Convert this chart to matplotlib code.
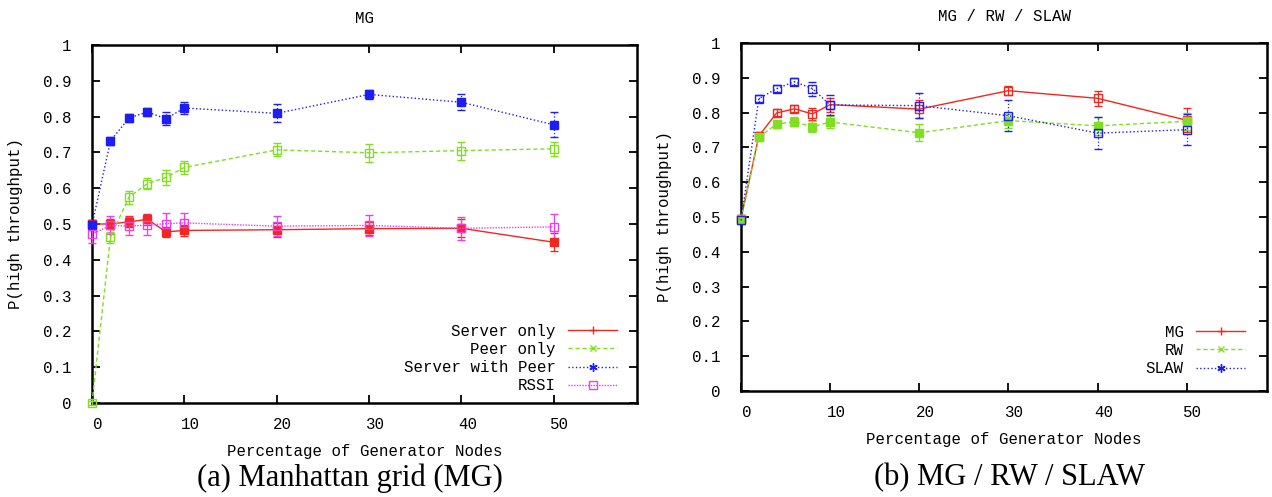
import matplotlib
matplotlib.use("Agg")
import matplotlib.pyplot as plt
import matplotlib.transforms as mtransforms
from matplotlib.lines import Line2D

# percentage of generator nodes
gen_pct = [0, 2, 4, 6, 8, 10, 20, 30, 40, 50]

# (a) Manhattan grid
server_only = [0.500, 0.500, 0.506, 0.513, 0.478, 0.482, 0.484, 0.487, 0.488, 0.449]
server_only_err = [0.010, 0.015, 0.015, 0.015, 0.015, 0.015, 0.020, 0.018, 0.025, 0.025]
peer_only = [0.000, 0.463, 0.575, 0.613, 0.630, 0.658, 0.707, 0.699, 0.705, 0.710]
peer_only_err = [0.005, 0.015, 0.018, 0.016, 0.020, 0.018, 0.018, 0.025, 0.025, 0.020]
server_peer = [0.497, 0.732, 0.796, 0.813, 0.794, 0.824, 0.809, 0.862, 0.840, 0.777]
server_peer_err = [0.015, 0.010, 0.010, 0.012, 0.018, 0.016, 0.025, 0.012, 0.022, 0.035]
rssi = [0.472, 0.496, 0.494, 0.497, 0.501, 0.503, 0.494, 0.496, 0.488, 0.492]
rssi_err = [0.025, 0.025, 0.025, 0.028, 0.030, 0.028, 0.028, 0.030, 0.032, 0.035]

# (b) MG / RW / SLAW
mg = [0.495, 0.733, 0.799, 0.811, 0.796, 0.823, 0.810, 0.863, 0.841, 0.778]
mg_err = [0.010, 0.010, 0.010, 0.010, 0.017, 0.020, 0.025, 0.013, 0.022, 0.035]
rw = [0.495, 0.730, 0.767, 0.774, 0.759, 0.773, 0.742, 0.777, 0.762, 0.775]
rw_err = [0.010, 0.012, 0.012, 0.012, 0.016, 0.016, 0.025, 0.020, 0.025, 0.025]
slaw = [0.490, 0.840, 0.869, 0.889, 0.869, 0.822, 0.820, 0.791, 0.741, 0.751]
slaw_err = [0.010, 0.010, 0.010, 0.010, 0.020, 0.030, 0.035, 0.045, 0.045, 0.045]

y_ticks = [0, 0.1, 0.2, 0.3, 0.4, 0.5, 0.6, 0.7, 0.8, 0.9, 1]
y_labels = ["0", "0.1", "0.2", "0.3", "0.4", "0.5", "0.6", "0.7", "0.8", "0.9", "1"]
x_ticks = [0, 10, 20, 30, 40, 50]

RED = "#f0281e"
GREEN = "#7ee020"
BLUE = "#1d1df5"
MAGENTA = "#f03cf0"

MONO = "Liberation Mono"
FS = 11.3
W, H = 1272, 497

fig = plt.figure(figsize=(W / 100, H / 100), dpi=100)


def px_axes(x0, y0, x1, y1):
    return fig.add_axes([x0 / W, 1 - y1 / H, (x1 - x0) / W, (y1 - y0) / H])


def series(ax, y, err, color, ls, mfc, lw=1.0):
    line, caps, bars = ax.errorbar(gen_pct, y, yerr=err, color=color, ls=ls, lw=lw,
                                   marker="s", ms=6, mfc=mfc, mec=color, mew=1.0,
                                   ecolor=color, elinewidth=0.9, capsize=3, capthick=0.9,
                                   clip_on=False, zorder=3)
    for b in bars:
        b.set_linestyle(":" if ls == ":" else "-")
        b.set_clip_on(False)
    for c in caps:
        c.set_clip_on(False)


def style_axes(ax, title):
    ax.set_xlim(0, 59)
    ax.set_ylim(0, 1)
    ax.set_xticks(x_ticks)
    ax.set_xticklabels([str(t) for t in x_ticks], fontfamily=MONO, fontsize=FS)
    ax.set_yticks(y_ticks)
    ax.set_yticklabels(y_labels, fontfamily=MONO, fontsize=FS)
    ax.tick_params(direction="in", length=6, width=1.3, top=True, right=True)
    ax.tick_params(axis="x", pad=10)
    ax.tick_params(axis="y", pad=15)
    off = mtransforms.ScaledTranslation(0.06, 0, fig.dpi_scale_trans)
    for lab in ax.get_xticklabels():
        lab.set_transform(lab.get_transform() + off)
    for s in ax.spines.values():
        s.set_linewidth(1.8)
    ax.set_title(title, fontfamily=MONO, fontsize=FS, pad=16)
    ax.set_xlabel("Percentage of Generator Nodes", fontfamily=MONO, fontsize=FS, labelpad=9)
    ax.set_ylabel("P(high throughput)", fontfamily=MONO, fontsize=FS, labelpad=14)


def gp_legend(ax, handles, labels, anchor):
    leg = ax.legend(handles, labels, loc="lower right", frameon=False, markerfirst=False,
                    prop={"family": MONO, "size": FS}, handlelength=3.1,
                    handletextpad=0.8, labelspacing=0.2, borderaxespad=0.0,
                    bbox_to_anchor=anchor)
    for col in leg._legend_handle_box.get_children():
        col.align = "right"
    return leg


# (a)
ax1 = px_axes(92, 45, 637, 403)
series(ax1, server_only, server_only_err, RED, "-", RED)
series(ax1, peer_only, peer_only_err, GREEN, (0, (3, 2)), "none")
series(ax1, server_peer, server_peer_err, BLUE, ":", BLUE)
series(ax1, rssi, rssi_err, MAGENTA, (0, (1, 1)), "none")
style_axes(ax1, "MG")
h1 = [Line2D([], [], color=RED, ls="-", lw=1, marker="+", ms=6),
      Line2D([], [], color=GREEN, ls=(0, (3, 2)), lw=1, marker="x", ms=5),
      Line2D([], [], color=BLUE, ls=":", lw=1, marker=(6, 2, 0), ms=6),
      Line2D([], [], color=MAGENTA, ls=(0, (1, 1)), lw=1, marker="s", ms=6, mfc="none")]
gp_legend(ax1, h1, ["Server only", "Peer only", "Server with Peer", "RSSI"], (0.975, 0.01))

# (b)
ax2 = px_axes(741, 43, 1267, 391)
series(ax2, mg, mg_err, RED, "-", "none")
series(ax2, rw, rw_err, GREEN, (0, (3, 2)), GREEN)
series(ax2, slaw, slaw_err, BLUE, ":", "none")
style_axes(ax2, "MG / RW / SLAW")
h2 = [Line2D([], [], color=RED, ls="-", lw=1, marker="+", ms=6),
      Line2D([], [], color=GREEN, ls=(0, (3, 2)), lw=1, marker="x", ms=5),
      Line2D([], [], color=BLUE, ls=":", lw=1, marker=(6, 2, 0), ms=6)]
gp_legend(ax2, h2, ["MG", "RW", "SLAW"], (0.97, 0.025))

# captions
fig.text(350 / W, 1 - 478 / H, "(a) Manhattan grid (MG)", family="Liberation Serif",
         fontsize=22, ha="center", va="center")
fig.text(1010 / W, 1 - 478 / H, "(b) MG / RW / SLAW", family="Liberation Serif",
         fontsize=22, ha="center", va="center")

fig.savefig("out.png", dpi=100)
